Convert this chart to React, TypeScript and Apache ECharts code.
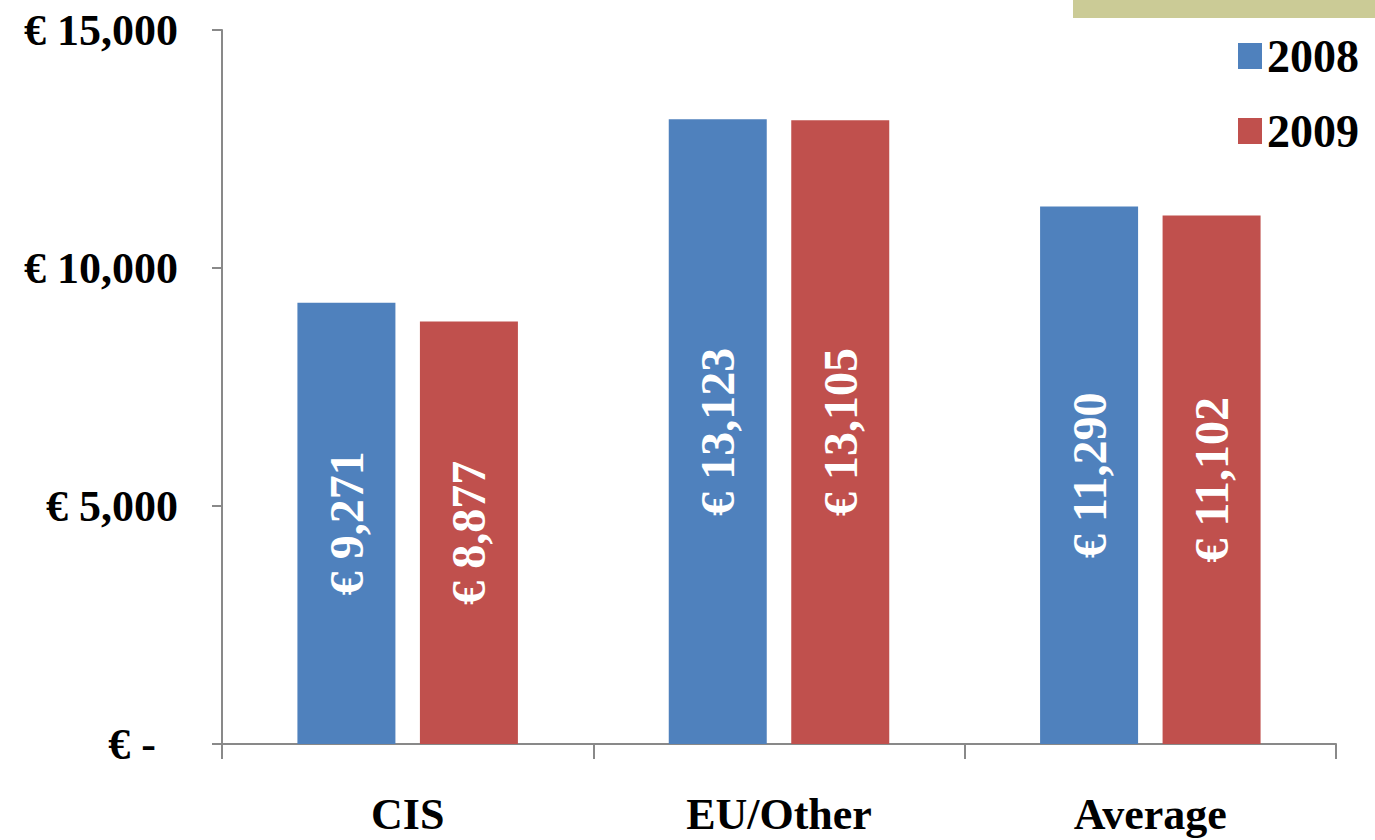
import React, { useEffect, useRef } from "react";
import * as echarts from "echarts";

const categories = ["CIS", "EU/Other", "Average"];
const series2008 = [9271, 13123, 11290];
const series2009 = [8877, 13105, 11102];
const seriesNames = ["2008", "2009"];
const yTicks = { min: 0, max: 15000, interval: 5000 };

const FONT = "'Liberation Serif', 'Times New Roman', serif";

const fmt = (v: number) => (v === 0 ? "€ -" : "€ " + v.toLocaleString("en-US"));

export default function App() {
  const ref = useRef<HTMLDivElement>(null);
  useEffect(() => {
    if (!ref.current) return;
    const chart = echarts.init(ref.current, null, { renderer: "svg" });
    const labelCfg = {
      show: true,
      position: "inside",
      rotate: 90,
      align: "center",
      verticalAlign: "middle",
      color: "#ffffff",
      fontSize: 48,
      fontWeight: "bold",
      fontFamily: FONT,
      formatter: (p: any) => fmt(p.value),
    };
    chart.setOption({
      animation: false,
      backgroundColor: "#ffffff",
      grid: { left: 222, right: 39, top: 30, bottom: 96, containLabel: false },
      legend: {
        orient: "vertical",
        left: 1233,
        top: 27,
        itemWidth: 24,
        itemHeight: 26,
        itemGap: 27,
        icon: "rect",
        textStyle: {
          fontSize: 46,
          fontWeight: "bold",
          fontFamily: FONT,
          color: "#000000",
          padding: [0, 0, 0, 0],
          lineHeight: 48,
        },
        data: seriesNames,
      },
      graphic: [
        {
          type: "rect",
          shape: { x: 1073, y: 0, width: 302, height: 18 },
          style: { fill: "#CBCB96" },
          silent: true,
        },
      ],
      xAxis: {
        type: "category",
        data: categories,
        axisLine: { show: true, lineStyle: { color: "#898989", width: 2 } },
        axisTick: { show: true, length: 15, lineStyle: { color: "#898989", width: 2 } },
        axisLabel: {
          margin: 48,
          fontSize: 44,
          fontWeight: "bold",
          fontFamily: FONT,
          color: "#000000",
        },
        splitLine: { show: false },
      },
      yAxis: {
        type: "value",
        min: yTicks.min,
        max: yTicks.max,
        interval: yTicks.interval,
        axisLine: { show: true, lineStyle: { color: "#898989", width: 2 } },
        axisTick: { show: true, length: 10, lineStyle: { color: "#898989", width: 2 } },
        axisLabel: {
          margin: 44,
          fontSize: 44,
          fontWeight: "bold",
          fontFamily: FONT,
          color: "#000000",
          formatter: (v: number) => (v === 0 ? "{z|" + fmt(v) + "}" : fmt(v)),
          rich: {
            z: {
              fontSize: 44,
              fontWeight: "bold",
              fontFamily: FONT,
              color: "#000000",
              padding: [0, 22, 0, 0],
            },
          },
        },
        splitLine: { show: false },
      },
      series: [
        {
          name: seriesNames[0],
          type: "bar",
          data: series2008,
          barWidth: 98,
          barGap: "25%",
          itemStyle: { color: "#4F81BD" },
          label: labelCfg,
        },
        {
          name: seriesNames[1],
          type: "bar",
          data: series2009,
          barWidth: 98,
          barGap: "25%",
          itemStyle: { color: "#C0504D" },
          label: labelCfg,
        },
      ],
    });
    return () => chart.dispose();
  }, []);
  return (
    <div
      ref={ref}
      style={{ position: "fixed", left: 0, top: 0, width: 1375, height: 840, background: "#fff" }}
    />
  );
}
